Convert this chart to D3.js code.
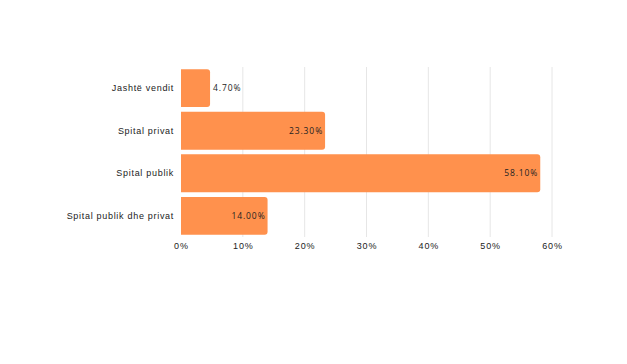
<!DOCTYPE html>
<html>
<head>
<meta charset="utf-8">
<script src="https://cdn.jsdelivr.net/npm/d3@7.9.0/dist/d3.min.js"></script>
<style>
  body { margin: 0; background: #fff; }
  svg { display: block; font-family: 'Open Sans', sans-serif; }
</style>
</head>
<body>
<div id="chart"></div>
<script>
const categories = ['Jashtë vendit', 'Spital privat', 'Spital publik', 'Spital publik dhe privat'];
const values = [4.7, 23.3, 58.1, 14.0];
const ticks = [0, 10, 20, 30, 40, 50, 60];

const width = 627;
const height = 364;
const margin = { top: 67, right: 75, bottom: 127, left: 181 };

const svg = d3
  .select('#chart')
  .append('svg')
  .attr('width', width)
  .attr('height', height);

const xScale = d3
  .scaleLinear()
  .domain([0, 60])
  .range([margin.left, width - margin.right]);

const yScale = d3
  .scaleBand()
  .domain(categories)
  .range([margin.top, height - margin.bottom])
  .paddingInner(0.11)
  .paddingOuter(0.05);

// gridlines
svg
  .append('g')
  .attr('class', 'grid')
  .selectAll('line')
  .data(ticks.slice(1))
  .join('line')
  .attr('x1', (d) => xScale(d))
  .attr('x2', (d) => xScale(d))
  .attr('y1', margin.top)
  .attr('y2', height - margin.bottom)
  .attr('stroke', '#e6e6e6')
  .attr('stroke-width', 1);

// x axis
const xAxis = d3
  .axisBottom(xScale)
  .tickValues(ticks)
  .tickFormat((d) => d + '%')
  .tickSize(0)
  .tickPadding(6);

svg
  .append('g')
  .attr('transform', `translate(0, ${height - margin.bottom})`)
  .call(xAxis)
  .call((g) => g.select('.domain').remove())
  .selectAll('text')
  .attr('fill', '#222')
  .style('font-size', '9px')
  .style('letter-spacing', '0.9px');

// y axis
const yAxis = d3.axisLeft(yScale).tickSize(0).tickPadding(7);

svg
  .append('g')
  .attr('transform', `translate(${margin.left}, 0)`)
  .call(yAxis)
  .call((g) => g.select('.domain').remove())
  .selectAll('text')
  .attr('fill', '#222')
  .style('font-size', '9px')
  .style('letter-spacing', '0.7px');

// bars with rounded right corners
const r = 3;
const bars = svg.append('g').attr('class', 'bars');

bars
  .selectAll('path')
  .data(categories)
  .join('path')
  .attr('fill', '#ff914d')
  .attr('d', (d, i) => {
    const x0 = xScale(0);
    const x1 = xScale(values[i]);
    const y0 = yScale(d);
    const h = yScale.bandwidth();
    return `M${x0},${y0}H${x1 - r}Q${x1},${y0} ${x1},${y0 + r}V${y0 + h - r}Q${x1},${y0 + h} ${x1 - r},${y0 + h}H${x0}Z`;
  });

// value labels
bars
  .selectAll('text')
  .data(categories)
  .join('text')
  .attr('x', (d, i) => {
    const x1 = xScale(values[i]);
    return x1 - xScale(0) > 40 ? x1 - 2 : x1 + 3;
  })
  .attr('y', (d) => yScale(d) + yScale.bandwidth() / 2)
  .attr('dy', '0.35em')
  .attr('text-anchor', (d, i) => (xScale(values[i]) - xScale(0) > 40 ? 'end' : 'start'))
  .attr('fill', '#222')
  .style('font-size', '8.5px')
  .style('letter-spacing', '0.9px')
  .text((d, i) => values[i].toFixed(2) + '%');
</script>
</body>
</html>
